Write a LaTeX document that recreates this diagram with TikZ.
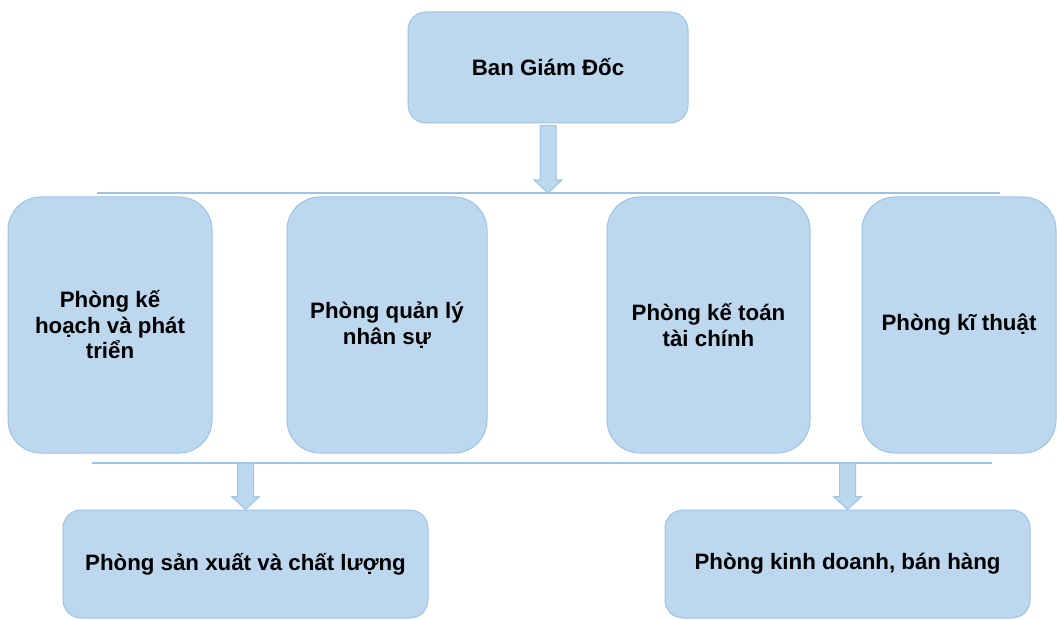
\documentclass[tikz,border=0pt]{standalone}
\usepackage{fontspec}
\setmainfont{Liberation Sans}
\usetikzlibrary{calc}
\definecolor{boxfill}{HTML}{BDD7EE}
\definecolor{boxline}{HTML}{9DC3E6}
\tikzset{
    phong/.style={draw=boxline, fill=boxfill, line width=1pt, rounded corners=18pt,
        align=center, inner sep=0pt, font=\fontsize{22.3}{25.5}\selectfont\bfseries},
    trennlinie/.style={draw=boxline, line width=1.5pt},
    blockpfeil/.style={draw=boxline, fill=boxfill, line width=1pt, line join=miter}
}
% Blockpfeil nach unten: von #1 bis #2
\newcommand{\blockpfeil}[2]{%
    \draw[blockpfeil] let \p1=(#1), \p2=(#2) in
        (\x1-8pt,\y1) -- (\x1+8pt,\y1) -- (\x1+8pt,\y2+13pt) -- (\x1+14pt,\y2+13pt)
        -- (\x1,\y2) -- (\x1-14pt,\y2+13pt) -- (\x1-8pt,\y2+13pt) -- cycle;}
\begin{document}
\begin{tikzpicture}[x=1pt,y=1pt]
        \useasboundingbox (0,0) rectangle (1057,619);
        % Leitung
        \node[phong, minimum width=280pt, minimum height=111pt] (bgd) at (548,551.5) {Ban Giám Đốc};
        % Abteilungen
        \node[phong, rounded corners=33pt, minimum width=204pt, minimum height=256pt] (khpt) at (110,294) {Phòng kế\\hoạch và phát\\triển};
        \node[phong, rounded corners=33pt, minimum width=200pt, minimum height=256pt] (qlns) at (387,294) {Phòng quản lý\\nhân sự};
        \node[phong, rounded corners=33pt, minimum width=203pt, minimum height=256pt] (ktc) at (708.5,294) {Phòng kế toán\\tài chính};
        \node[phong, rounded corners=33pt, minimum width=194pt, minimum height=256pt] (kt) at (959,294) {Phòng kĩ thuật};
        \node[phong, minimum width=365pt, minimum height=108pt] (sxcl) at (245.5,55) {Phòng sản xuất và chất lượng};
        \node[phong, minimum width=365pt, minimum height=108pt] (kdbh) at (847.5,55) {Phòng kinh doanh, bán hàng};
        % Trennlinien
        \coordinate (loW) at (97,426);
        \coordinate (loE) at (1000,426);
        \coordinate (luW) at (92,156);
        \coordinate (luE) at (992,156);
        \draw[trennlinie] (loW) -- (loE);
        \draw[trennlinie] (luW) -- (luE);
        % Pfeile
        \coordinate (lo) at (bgd.south |- loW);
        \coordinate (lu1) at (sxcl.north |- luW);
        \coordinate (lu2) at (kdbh.north |- luW);
        \blockpfeil{$(bgd.south)+(0,-2)$}{lo}
        \blockpfeil{lu1}{sxcl.north}
        \blockpfeil{lu2}{kdbh.north}
    \end{tikzpicture}
\end{document}
